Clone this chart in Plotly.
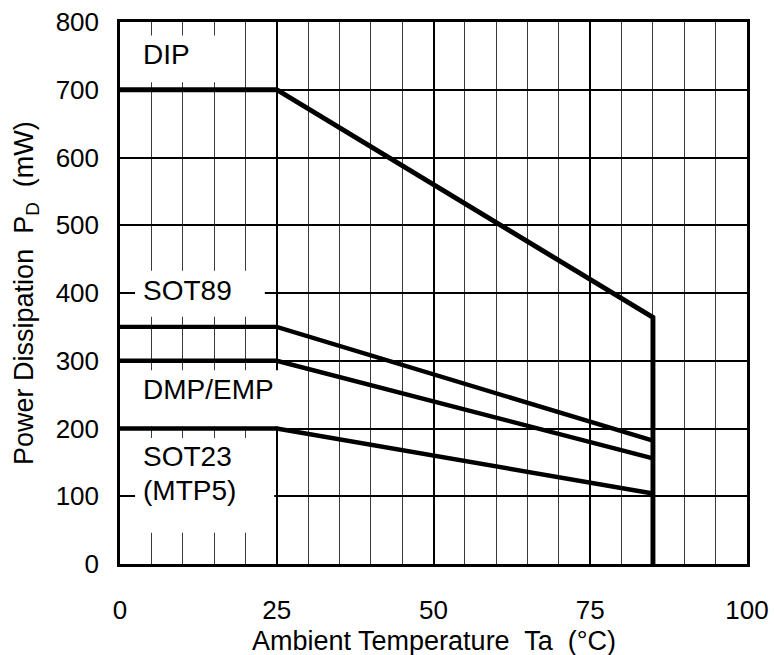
import plotly.graph_objects as go

# ---- data ----
temps = [0, 25, 85]
dip = [700, 700, 364]
sot89 = [350, 350, 182]
dmp_emp = [300, 300, 156]
sot23 = [200, 200, 104]
x_ticks = [0, 25, 50, 75, 100]
y_ticks = [0, 100, 200, 300, 400, 500, 600, 700, 800]

FONT = "Arial, Liberation Sans, sans-serif"
LW = 4.4

fig = go.Figure()
# DIP with the vertical cut-off at 85 degC down to zero
fig.add_trace(go.Scatter(x=temps + [temps[-1]], y=dip + [0], mode="lines",
                         line=dict(color="black", width=LW + 0.5), hoverinfo="skip"))
for ys in (sot89, dmp_emp, sot23):
    fig.add_trace(go.Scatter(x=temps, y=ys, mode="lines",
                             line=dict(color="black", width=LW), hoverinfo="skip"))

# white label boxes covering the grid
boxes = [
    (0.3, 711, 19, 780),
    (2.4, 365, 23.1, 433),
    (0.3, 203, 26, 286),
    (2.4, 46, 24.6, 186),
]
for x0, y0, x1, y1 in boxes:
    fig.add_shape(type="rect", xref="x", yref="y", x0=x0, y0=y0, x1=x1, y1=y1,
                  fillcolor="white", line=dict(width=0), layer="between")

labels = [
    ("DIP", 752),
    ("SOT89", 404),
    ("DMP/EMP", 257),
    ("SOT23", 158),
    ("(MTP5)", 108),
]
for txt, yv in labels:
    fig.add_annotation(x=3.3, y=yv, xref="x", yref="y", text=txt, showarrow=False,
                       xanchor="left", yanchor="middle",
                       font=dict(family=FONT, size=28, color="black"))

fig.add_annotation(xref="paper", yref="paper", x=0.5, y=-0.142,
                   text="Ambient Temperature  Ta  (°C)", showarrow=False,
                   xanchor="center", yanchor="middle",
                   font=dict(family=FONT, size=27, color="black"))
fig.add_annotation(xref="paper", yref="paper", x=-0.15, y=0.5, textangle=-90,
                   text="Power Dissipation  P<sub>D</sub>  (mW)", showarrow=False,
                   xanchor="center", yanchor="middle",
                   font=dict(family=FONT, size=27, color="black"))

fig.update_layout(
    width=774, height=655,
    margin=dict(l=120, r=27, t=22, b=91),
    paper_bgcolor="white", plot_bgcolor="white",
    showlegend=False,
    font=dict(family=FONT, size=26, color="black"),
)
fig.update_xaxes(range=[0, 100], tickvals=x_ticks, ticktext=[str(v) for v in x_ticks],
                 showgrid=True, gridcolor="black", gridwidth=2,
                 minor=dict(dtick=5, showgrid=True, gridcolor="#3a3a3a", gridwidth=1),
                 showline=True, linecolor="black", linewidth=2.5, mirror=True,
                 zeroline=False, ticks="", ticklabelstandoff=21, automargin=False,
                 ticklabeloverflow="allow",
                 tickfont=dict(family=FONT, size=26, color="black"))
fig.update_yaxes(range=[0, 800], tickvals=y_ticks, ticktext=[str(v) for v in y_ticks],
                 showgrid=True, gridcolor="black", gridwidth=1.8,
                 showline=True, linecolor="black", linewidth=2.5, mirror=True,
                 zeroline=False, ticks="", ticklabelstandoff=13, automargin=False,
                 ticklabeloverflow="allow",
                 tickfont=dict(family=FONT, size=26, color="black"))

fig.write_html(
    "out.html",
    config={"displayModeBar": False},
    post_script="document.body.style.margin='0';document.body.style.overflow='hidden';",
)
